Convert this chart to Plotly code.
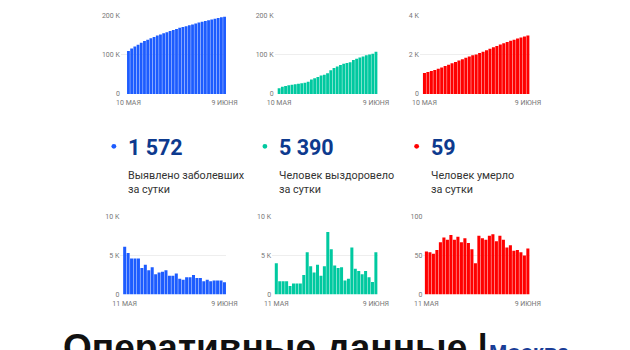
import plotly.graph_objects as go
import pandas as pd

W, H = 630, 350

# ---- data ----
dates_cum = pd.date_range("2020-05-10", "2020-06-09").strftime("%Y-%m-%d").tolist()
dates_day = pd.date_range("2020-05-11", "2020-06-09").strftime("%Y-%m-%d").tolist()

cum_cases = [110000, 116500, 121800, 126500, 131200, 135800, 139300, 143200, 146400, 150000,
             152700, 155600, 158600, 161800, 164300, 166800, 169600, 171700, 173700, 176000,
             178300, 180900, 183100, 185300, 187100, 189100, 190900, 192800, 194700, 196600, 198300]
cum_recovered = [14500, 18500, 20200, 21900, 23600, 24700, 26100, 27500, 28900, 31400,
                 36800, 40400, 43200, 47000, 49400, 53000, 61000, 66800, 70500, 73900,
                 77400, 79200, 81200, 87200, 90500, 93500, 96100, 99100, 101300, 102900, 108300]
cum_deaths = [1070, 1125, 1179, 1231, 1288, 1355, 1428, 1498, 1574, 1644,
              1718, 1785, 1857, 1923, 1981, 2021, 2096, 2168, 2238, 2313,
              2390, 2458, 2533, 2603, 2663, 2726, 2782, 2839, 2893, 2943, 3002]

day_cases = [6100, 5300, 4600, 4600, 4600, 3400, 3800, 3100, 3500, 2600,
             2800, 2900, 3100, 2400, 2400, 2700, 2000, 1900, 2200, 2200,
             2500, 2100, 2100, 1700, 1900, 1700, 1800, 1800, 1800, 1572]
day_recovered = [4000, 1700, 1700, 1700, 1100, 1400, 1400, 1400, 2500, 5400,
                 3600, 2800, 3800, 2400, 3600, 8000, 5800, 3700, 3400, 3500,
                 1800, 2000, 6000, 3300, 3000, 2600, 3000, 2200, 1600, 5390]
day_deaths = [55, 54, 52, 57, 67, 73, 70, 76, 70, 74,
              67, 72, 66, 58, 40, 75, 72, 70, 75, 77,
              68, 75, 70, 60, 63, 56, 57, 54, 50, 59]

big_numbers = ["1 572", "5 390", "59"]
captions = ["Выявлено заболевших<br>за сутки", "Человек выздоровело<br>за сутки", "Человек умерло<br>за сутки"]
tick_top = ["10 МАЯ", "9 ИЮНЯ"]
tick_bot = ["11 МАЯ", "9 ИЮНЯ"]

BLUE = "#1d5cff"
TEAL = "#00c9a0"
RED = "#ff0000"
NAVY = "#0d3a8e"

def px(p):
    return p / W

def py(p):
    return 1 - p / H

charts = [
    (dates_cum, cum_cases, BLUE, (115.5, 224.5), (121.7, 224.3), (12.3, 92), [0, 100000, 200000], ["0", "100 K", "200 K"], tick_top),
    (dates_cum, cum_recovered, TEAL, (274.3, 381), (277.3, 380.7), (12.3, 92), [0, 100000, 200000], ["0", "100 K", "200 K"], tick_top),
    (dates_cum, cum_deaths, RED, (424.3, 538), (427.3, 537.7), (12.3, 92), [0, 2000, 4000], ["0", "2 K", "4 K"], tick_top),
    (dates_day, day_cases, BLUE, (115, 224.5), (117.7, 224.3), (217.3, 297.3), [0, 5000, 10000], ["0", "5 K", "10 K"], tick_bot),
    (dates_day, day_recovered, TEAL, (271.7, 381), (274.3, 380.7), (217.3, 297.3), [0, 5000, 10000], ["0", "5 K", "10 K"], tick_bot),
    (dates_day, day_deaths, RED, (428, 538), (429.3, 537.7), (217.3, 297.3), [0, 50, 100], ["0", "50", "100"], tick_bot),
]

fig = go.Figure()
layout = dict(
    width=W, height=H,
    margin=dict(l=0, r=0, t=0, b=0),
    paper_bgcolor="white", plot_bgcolor="white",
    showlegend=False, bargap=0.12,
    font=dict(family="Roboto", color="#777"),
)

for i, (xs, ys, col, xd, be, yd, tv, tt, xl) in enumerate(charts):
    n = i + 1
    sfx = "" if n == 1 else str(n)
    fig.add_trace(go.Bar(x=xs, y=ys, marker=dict(color=col, line=dict(width=0)),
                         xaxis="x" + sfx, yaxis="y" + sfx, hoverinfo="skip"))
    unit = (be[1] - be[0]) / len(xs)
    lpad = (be[0] - xd[0]) / unit
    rpad = (xd[1] - be[1]) / unit
    first = pd.Timestamp(xs[0])
    last = pd.Timestamp(xs[-1])
    r0 = first - pd.Timedelta(days=0.5 + lpad)
    r1 = last + pd.Timedelta(days=0.5 + rpad)
    layout["xaxis" + sfx] = dict(
        domain=[px(xd[0]), px(xd[1])], anchor="y" + sfx, type="date",
        range=[r0.strftime("%Y-%m-%d %H:%M:%S"), r1.strftime("%Y-%m-%d %H:%M:%S")],
        tickvals=[xs[0], xs[-1]], ticktext=xl, showgrid=False, zeroline=False,
        showline=False, ticks="", ticklabelstandoff=3,
        tickfont=dict(size=7, color="#777"), fixedrange=True,
    )
    layout["yaxis" + sfx] = dict(
        domain=[py(yd[1]), py(yd[0])], anchor="x" + sfx, range=[0, tv[-1]],
        tickvals=tv, ticktext=tt, showgrid=True, gridcolor="#eeeeee", gridwidth=1,
        zeroline=False, showline=False, ticks="", tickfont=dict(size=7, color="#777"),
        fixedrange=True,
    )

fig.update_layout(**layout)

# summary block
dot_x = [108.3, 264.3, 421.0]
text_x = [121.7, 278.3, 435.0]
dot_cols = [BLUE, TEAL, RED]
shapes = []
annotations = []
for k in range(3):
    r = 2.5
    shapes.append(dict(type="circle", xref="paper", yref="paper",
                       x0=px(dot_x[k] - r), x1=px(dot_x[k] + r),
                       y0=py(145.7 + r), y1=py(145.7 - r),
                       fillcolor=dot_cols[k], line=dict(width=0)))
    annotations.append(dict(text="<b>" + big_numbers[k] + "</b>", x=px(text_x[k] - 1), y=py(146.5),
                            xref="paper", yref="paper", xanchor="left", yanchor="middle",
                            showarrow=False, font=dict(family="Roboto", size=21.5, color=NAVY)))
    annotations.append(dict(text=captions[k], x=px(text_x[k] - 1), y=py(182.5),
                            xref="paper", yref="paper", xanchor="left", yanchor="middle",
                            align="left", showarrow=False,
                            font=dict(family="Roboto", size=10.8, color="#333")))

annotations.append(dict(text="<b>Оперативные данные |</b>", x=px(54), y=py(352),
                        xref="paper", yref="paper", xanchor="left", yanchor="middle",
                        showarrow=False, font=dict(family="Liberation Sans", size=37, color="#111")))
annotations.append(dict(text="<b>Москва</b>", x=px(494), y=py(357),
                        xref="paper", yref="paper", xanchor="left", yanchor="middle",
                        showarrow=False, font=dict(family="Liberation Sans", size=22, color="#1a3d96")))

fig.update_layout(shapes=shapes, annotations=annotations)

fig.write_html("out.html")
